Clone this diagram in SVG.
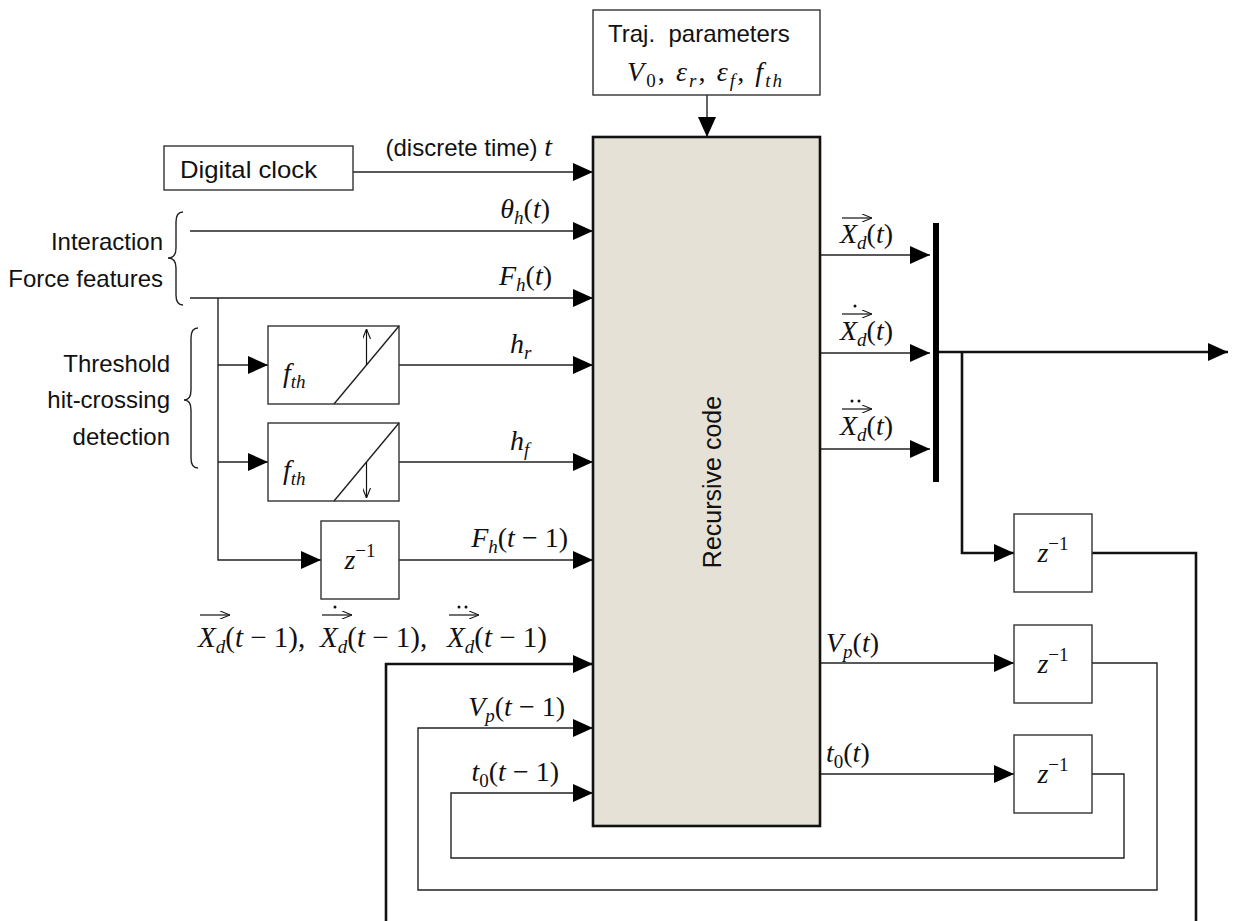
<svg xmlns="http://www.w3.org/2000/svg" width="1235" height="921" viewBox="0 0 1235 921">
<style>
.sans{font-family:"Liberation Sans","Noto Sans",Arial,sans-serif;font-size:24px;fill:#111}
.m{font-family:"Liberation Serif","Times New Roman",serif;font-size:28px;fill:#111}
.m29{font-size:29px}
.i{font-style:italic}
.s{font-size:19px}
.box{fill:#fff;stroke:#333;stroke-width:1.4}
.ln{fill:none;stroke:#222;stroke-width:1.4}
.thk{fill:none;stroke:#111;stroke-width:2.6}
.arr{marker-end:url(#ah)}
.oa{fill:none;stroke:#111;stroke-width:1.2}
</style>
<defs>
<marker id="ah" markerUnits="userSpaceOnUse" viewBox="0 0 20 18" markerWidth="20" markerHeight="18" refX="20" refY="9" orient="auto"><path d="M0,0L20,9L0,18z" fill="#000"/></marker>
<marker id="oh" markerUnits="userSpaceOnUse" viewBox="0 0 10 8" markerWidth="10" markerHeight="8" refX="10" refY="4" orient="auto"><path d="M0,0L10,4L0,8" fill="none" stroke="#111" stroke-width="1.1"/></marker>
</defs>

<g id="connectors">
  <line class="ln arr" x1="707" y1="95" x2="707" y2="137"/>
  <line class="ln arr" x1="353" y1="172" x2="593" y2="172"/>
  <line class="ln arr" x1="190" y1="231" x2="593" y2="231"/>
  <line class="ln arr" x1="190" y1="298" x2="593" y2="298"/>
  <polyline class="ln arr" points="218,298 218,560 321,560"/>
  <line class="ln arr" x1="218" y1="365" x2="268" y2="365"/>
  <line class="ln arr" x1="218" y1="462" x2="268" y2="462"/>
  <line class="ln arr" x1="334" y1="365" x2="593" y2="365"/>
  <line class="ln arr" x1="334" y1="462" x2="593" y2="462"/>
  <line class="ln arr" x1="399" y1="560" x2="593" y2="560"/>
  <polyline class="thk arr" points="386,925 386,664 593,664"/>
  <polyline class="ln arr" points="1092,663 1157,663 1157,890 418,890 418,728 593,728"/>
  <polyline class="ln arr" points="1092,774 1124,774 1124,858 451,858 451,793 593,793"/>
  <line class="ln arr" x1="820" y1="255" x2="930" y2="255"/>
  <line class="ln arr" x1="820" y1="353" x2="930" y2="353"/>
  <line class="ln arr" x1="820" y1="449" x2="930" y2="449"/>
  <line class="thk arr" x1="939" y1="352" x2="1228" y2="352"/>
  <polyline class="thk arr" points="962,352 962,553 1014,553"/>
  <polyline class="thk" points="1092,553 1196,553 1196,925"/>
  <line class="ln arr" x1="820" y1="663" x2="1014" y2="663"/>
  <line class="ln arr" x1="820" y1="774" x2="1014" y2="774"/>
</g>

<g id="traj">
  <rect class="box" x="593" y="10" width="227" height="85"/>
  <text class="sans" x="608" y="42" xml:space="preserve">Traj.  parameters</text>
  <text class="m" x="627" y="81" textLength="155" lengthAdjust="spacing" xml:space="preserve"><tspan class="i">V</tspan><tspan class="s" dy="6">0</tspan><tspan dy="-6">, </tspan><tspan class="i">ε</tspan><tspan class="s i" dy="6">r</tspan><tspan dy="-6">, </tspan><tspan class="i">ε</tspan><tspan class="s i" dy="6">f</tspan><tspan dy="-6">, </tspan><tspan class="i">f</tspan><tspan class="s i" dy="6">th</tspan></text>
</g>

<g id="recursive">
  <rect x="593" y="137" width="227" height="689" fill="#e5e1d6" stroke="#111" stroke-width="2.6"/>
  <text class="sans" transform="translate(721,482) rotate(-90)" text-anchor="middle" style="font-size:25px">Recursive code</text>
</g>

<g id="clock">
  <rect class="box" x="164" y="146" width="189" height="44"/>
  <text class="sans" x="180" y="178" textLength="137" lengthAdjust="spacingAndGlyphs">Digital clock</text>
</g>

<g id="fth-r">
  <rect class="box" x="268" y="326" width="131" height="78"/>
  <line class="ln" x1="334" y1="404" x2="399" y2="326"/>
  <line class="oa" x1="366.5" y1="365" x2="366.5" y2="329" marker-end="url(#oh)"/>
  <text class="m" x="283" y="382"><tspan class="i">f</tspan><tspan class="s i" dy="6">th</tspan></text>
</g>
<g id="fth-f">
  <rect class="box" x="268" y="423" width="131" height="78"/>
  <line class="ln" x1="334" y1="501" x2="399" y2="423"/>
  <line class="oa" x1="366.5" y1="462" x2="366.5" y2="498" marker-end="url(#oh)"/>
  <text class="m" x="283" y="479"><tspan class="i">f</tspan><tspan class="s i" dy="6">th</tspan></text>
</g>

<g id="z-fh">
  <rect class="box" x="321" y="521" width="78" height="78"/>
  <text class="m" x="360" y="569" text-anchor="middle"><tspan class="i">z</tspan><tspan class="s" dy="-12">−1</tspan></text>
</g>
<g id="z-x">
  <rect class="box" x="1014" y="514" width="78" height="78"/>
  <text class="m" x="1053" y="562" text-anchor="middle"><tspan class="i">z</tspan><tspan class="s" dy="-12">−1</tspan></text>
</g>
<g id="z-vp">
  <rect class="box" x="1014" y="625" width="78" height="78"/>
  <text class="m" x="1053" y="673" text-anchor="middle"><tspan class="i">z</tspan><tspan class="s" dy="-12">−1</tspan></text>
</g>
<g id="z-t0">
  <rect class="box" x="1014" y="735" width="78" height="78"/>
  <text class="m" x="1053" y="783" text-anchor="middle"><tspan class="i">z</tspan><tspan class="s" dy="-12">−1</tspan></text>
</g>

<g id="bus">
  <rect x="933" y="223" width="6" height="259" fill="#000"/>
</g>

<g id="braces">
  <path class="ln" d="M183,212 Q176,212 176,222 L176,248 Q176,258 168,258 Q176,258 176,268 L176,295 Q176,305 183,305"/>
  <path class="ln" d="M198,328 Q191,328 191,338 L191,390 Q191,400 184,400 Q191,400 191,410 L191,458 Q191,468 198,468"/>
  <text class="sans" x="163" y="250" text-anchor="end">Interaction</text>
  <text class="sans" x="163" y="287" text-anchor="end">Force features</text>
  <text class="sans" x="170" y="372" text-anchor="end">Threshold</text>
  <text class="sans" x="170" y="408" text-anchor="end">hit-crossing</text>
  <text class="sans" x="170" y="445" text-anchor="end">detection</text>
</g>

<g id="labels">
  <text x="552" y="156" text-anchor="end"><tspan class="sans">(discrete time) </tspan><tspan class="m i">t</tspan></text>
  <text class="m" x="550" y="218" text-anchor="end"><tspan class="i">θ</tspan><tspan class="s i" dy="6">h</tspan><tspan dy="-6">(</tspan><tspan class="i">t</tspan>)</text>
  <text class="m" x="552" y="285" text-anchor="end"><tspan class="i">F</tspan><tspan class="s i" dy="6">h</tspan><tspan dy="-6">(</tspan><tspan class="i">t</tspan>)</text>
  <text class="m" x="510" y="353"><tspan class="i">h</tspan><tspan class="s i" dy="6">r</tspan></text>
  <text class="m" x="510" y="450"><tspan class="i">h</tspan><tspan class="s i" dy="6">f</tspan></text>
  <text class="m" x="568" y="547" text-anchor="end" xml:space="preserve"><tspan class="i">F</tspan><tspan class="s i" dy="6">h</tspan><tspan dy="-6">(</tspan><tspan class="i">t</tspan> − 1)</text>
  <text class="m" x="565" y="716" text-anchor="end" xml:space="preserve"><tspan class="i">V</tspan><tspan class="s i" dy="6">p</tspan><tspan dy="-6">(</tspan><tspan class="i">t</tspan> − 1)</text>
  <text class="m" x="559" y="781" text-anchor="end" xml:space="preserve"><tspan class="i">t</tspan><tspan class="s" dy="6">0</tspan><tspan dy="-6">(</tspan><tspan class="i">t</tspan> − 1)</text>
  <text class="m" x="826" y="652"><tspan class="i">V</tspan><tspan class="s i" dy="6">p</tspan><tspan dy="-6">(</tspan><tspan class="i">t</tspan>)</text>
  <text class="m" x="826" y="762"><tspan class="i">t</tspan><tspan class="s" dy="6">0</tspan><tspan dy="-6">(</tspan><tspan class="i">t</tspan>)</text>

  <text class="m" x="840" y="243"><tspan class="i">X</tspan><tspan class="s i" dy="6">d</tspan><tspan dy="-6">(</tspan><tspan class="i">t</tspan>)</text>
  <line class="oa" x1="842" y1="218" x2="872" y2="218" marker-end="url(#oh)"/>
  <text class="m" x="840" y="340"><tspan class="i">X</tspan><tspan class="s i" dy="6">d</tspan><tspan dy="-6">(</tspan><tspan class="i">t</tspan>)</text>
  <line class="oa" x1="842" y1="314" x2="872" y2="314" marker-end="url(#oh)"/>
  <circle cx="855" cy="306" r="1.5" fill="#111"/>
  <text class="m" x="840" y="435"><tspan class="i">X</tspan><tspan class="s i" dy="6">d</tspan><tspan dy="-6">(</tspan><tspan class="i">t</tspan>)</text>
  <line class="oa" x1="842" y1="409" x2="872" y2="409" marker-end="url(#oh)"/>
  <circle cx="852" cy="401" r="1.5" fill="#111"/>
  <circle cx="859" cy="401" r="1.5" fill="#111"/>

  <text class="m m29" x="198" y="647" xml:space="preserve"><tspan class="i">X</tspan><tspan class="s i" dy="6">d</tspan><tspan dy="-6">(</tspan><tspan class="i">t</tspan> − 1),</text>
  <line class="oa" x1="200" y1="615" x2="230" y2="615" marker-end="url(#oh)"/>
  <text class="m m29" x="320" y="647" xml:space="preserve"><tspan class="i">X</tspan><tspan class="s i" dy="6">d</tspan><tspan dy="-6">(</tspan><tspan class="i">t</tspan> − 1),</text>
  <line class="oa" x1="322" y1="615" x2="352" y2="615" marker-end="url(#oh)"/>
  <circle cx="335" cy="607" r="1.5" fill="#111"/>
  <text class="m m29" x="447" y="647" xml:space="preserve"><tspan class="i">X</tspan><tspan class="s i" dy="6">d</tspan><tspan dy="-6">(</tspan><tspan class="i">t</tspan> − 1)</text>
  <line class="oa" x1="449" y1="615" x2="479" y2="615" marker-end="url(#oh)"/>
  <circle cx="459" cy="607" r="1.5" fill="#111"/>
  <circle cx="466" cy="607" r="1.5" fill="#111"/>
</g>
</svg>
